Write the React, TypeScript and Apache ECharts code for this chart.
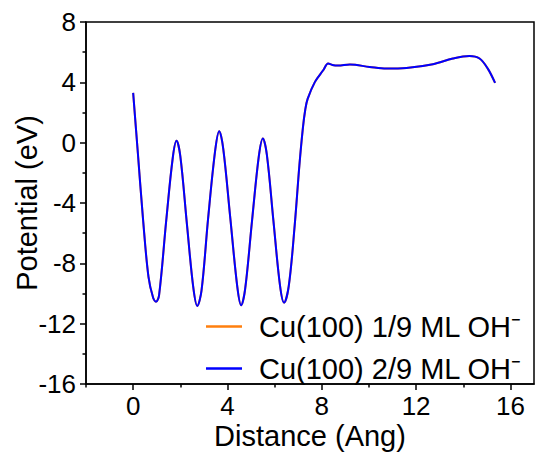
import React, { useEffect, useRef } from "react";
import * as echarts from "echarts";

const seriesNames = ["Cu(100) 1/9 ML OH⁻", "Cu(100) 2/9 ML OH⁻"];
const seriesColors = ["#FF7F0E", "#0000FF"];

const distance = [
  0, 0.2, 0.42, 0.65, 0.85, 0.97, 1.1, 1.4, 1.68, 1.84, 2.0, 2.28, 2.55, 2.72,
  2.9, 3.18, 3.48, 3.65, 3.82, 4.12, 4.42, 4.58, 4.75, 5.04, 5.33, 5.5, 5.67,
  5.95, 6.23, 6.4, 6.6, 6.85, 7.05, 7.2, 7.3, 7.4, 7.71, 8.06, 8.27, 8.45,
  8.69, 9.19, 10.03, 10.74, 11.59, 12.71, 13.56, 14.26, 14.69, 15.04, 15.35,
];

const potential19 = [
  3.3, -0.7, -5.1, -8.9, -10.3, -10.54, -10.1, -5.2, -1.0, 0.12, -0.9, -5.4,
  -9.6, -10.83, -9.8, -5.0, -0.5, 0.76, -0.4, -5.0, -9.6, -10.78, -9.7, -5.2,
  -0.9, 0.28, -0.8, -5.2, -9.5, -10.61, -9.5, -5.5, -1.5, 1.0, 2.2, 2.9, 4.03,
  4.8, 5.25, 5.15, 5.11, 5.18, 5.02, 4.91, 4.95, 5.2, 5.58, 5.75, 5.58, 4.91,
  3.96,
];

const potential29 = [
  3.3, -0.7, -5.1, -8.9, -10.3, -10.54, -10.1, -5.2, -1.0, 0.12, -0.9, -5.4,
  -9.6, -10.83, -9.8, -5.0, -0.5, 0.76, -0.4, -5.0, -9.6, -10.78, -9.7, -5.2,
  -0.9, 0.28, -0.8, -5.2, -9.5, -10.61, -9.5, -5.5, -1.5, 1.0, 2.2, 2.9, 4.03,
  4.8, 5.25, 5.15, 5.11, 5.18, 5.02, 4.91, 4.95, 5.2, 5.58, 5.75, 5.58, 4.91,
  3.96,
];

const xMajorTicks = [0, 4, 8, 12, 16];
const xMinorTicks = [-2, 2, 6, 10, 14];

const FONT = "Liberation Sans";

export default function App() {
  const ref = useRef<HTMLDivElement>(null);

  useEffect(() => {
    if (!ref.current) return;
    const chart = echarts.init(ref.current, null, { renderer: "svg" });
    const pair = (ys: number[]) => distance.map((x, i) => [x, ys[i]]);
    const axisLineStyle = { color: "#000", width: 1.5 };
    chart.setOption({
      animation: false,
      backgroundColor: "#fff",
      grid: {
        left: 86,
        right: 4,
        top: 22,
        bottom: 74,
        containLabel: false,
        outerBoundsMode: "none",
        show: true,
        borderColor: "#000",
        borderWidth: 1.5,
        backgroundColor: "transparent",
      },
      legend: {
        orient: "vertical",
        left: 201,
        top: 307,
        itemWidth: 36,
        itemHeight: 2.5,
        itemGap: 13,
        icon: "rect",
        data: seriesNames.map((n, i) => ({
          name: n,
          itemStyle: { color: seriesColors[i] },
        })),
        textStyle: {
          fontFamily: FONT,
          fontSize: 29,
          color: "#000",
          lineHeight: 29,
          padding: [0, 0, 0, 12],
        },
      },
      xAxis: [
        {
          type: "value",
          min: -2,
          max: 17,
          position: "bottom",
          name: "Distance (Ang)",
          nameLocation: "middle",
          nameGap: 39,
          nameMoveOverlap: false,
          nameTextStyle: {
            fontFamily: FONT,
            fontSize: 29,
            color: "#000",
            lineHeight: 26,
          },
          axisLine: { show: true, onZero: false, lineStyle: axisLineStyle },
          axisTick: {
            show: true,
            inside: false,
            length: 6,
            customValues: xMajorTicks,
            lineStyle: axisLineStyle,
          },
          axisLabel: {
            customValues: xMajorTicks,
            fontFamily: FONT,
            fontSize: 26,
            color: "#000",
            margin: 9,
            lineHeight: 26,
          },
          splitLine: { show: false },
        },
        {
          type: "value",
          min: -2,
          max: 17,
          position: "bottom",
          axisLine: { show: false, onZero: false },
          axisTick: {
            show: true,
            length: 3.5,
            customValues: xMinorTicks,
            lineStyle: axisLineStyle,
          },
          axisLabel: { show: false },
          splitLine: { show: false },
        },
      ],
      yAxis: {
        type: "value",
        min: -16,
        max: 8,
        interval: 4,
        name: "Potential (eV)",
        nameLocation: "middle",
        nameGap: 45,
        nameMoveOverlap: false,
        nameTextStyle: { fontFamily: FONT, fontSize: 29, color: "#000" },
        axisLine: { show: true, onZero: false, lineStyle: axisLineStyle },
        axisTick: { show: true, length: 6, lineStyle: axisLineStyle },
        minorTick: {
          show: true,
          splitNumber: 2,
          length: 3.5,
          lineStyle: axisLineStyle,
        },
        axisLabel: {
          fontFamily: FONT,
          fontSize: 26,
          color: "#000",
          margin: 10,
        },
        splitLine: { show: false },
        minorSplitLine: { show: false },
      },
      series: [
        {
          name: seriesNames[0],
          type: "line",
          data: pair(potential19),
          smooth: 0.35,
          symbol: "none",
          lineStyle: { color: seriesColors[0], width: 2 },
          itemStyle: { color: seriesColors[0] },
        },
        {
          name: seriesNames[1],
          type: "line",
          data: pair(potential29),
          smooth: 0.35,
          symbol: "none",
          lineStyle: { color: seriesColors[1], width: 2 },
          itemStyle: { color: seriesColors[1] },
        },
      ],
    });
    return () => chart.dispose();
  }, []);

  return (
    <div
      ref={ref}
      style={{
        position: "absolute",
        left: 0,
        top: 0,
        width: 538,
        height: 458,
        background: "#fff",
      }}
    />
  );
}
